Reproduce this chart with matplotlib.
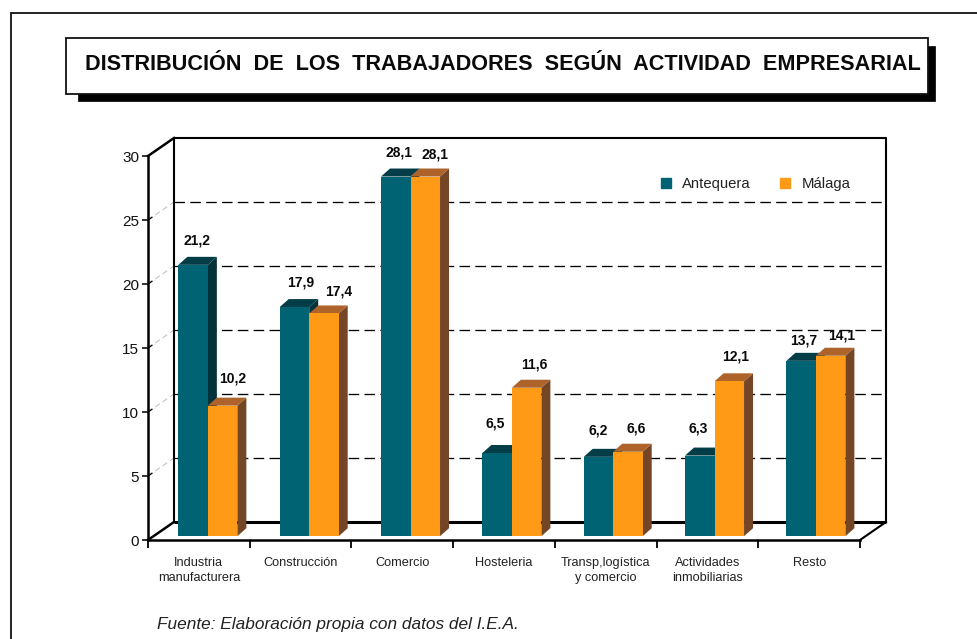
import matplotlib
matplotlib.use("Agg")
import matplotlib.pyplot as plt
from matplotlib.patches import Polygon, Rectangle
from matplotlib.lines import Line2D

plt.rcParams['font.family'] = ['Liberation Sans', 'DejaVu Sans']

title = "DISTRIBUCIÓN  DE  LOS  TRABAJADORES  SEGÚN  ACTIVIDAD  EMPRESARIAL"
source = "Fuente: Elaboración propia con datos del I.E.A."
categories = ["Industria\nmanufacturera", "Construcción", "Comercio", "Hosteleria",
              "Transp,logística\ny comercio", "Actividades\ninmobiliarias", "Resto"]
series_names = ["Antequera", "Málaga"]
antequera = [21.2, 17.9, 28.1, 6.5, 6.2, 6.3, 13.7]
malaga = [10.2, 17.4, 28.1, 11.6, 6.6, 12.1, 14.1]
y_ticks = [0, 5, 10, 15, 20, 25, 30]

W, H = 978, 639
TEAL = ('#006373', '#04323A', '#033D48')
ORANGE = ('#FF9A17', '#754626', '#AD6329')

# label nudges from each bar's top, in pixels (right, up)
off_a = [(4, 24), (6, 25), (3, 24), (-2, 30), (0, 26), (-2, 27), (3, 20)]
off_m = [(10, 27), (15, 22), (10, 22), (8, 23), (8, 23), (6, 25), (11, 20)]

fig = plt.figure(figsize=(W / 100, H / 100), dpi=100, facecolor='white')

# page furniture in pixel coordinates
bg = fig.add_axes([0, 0, 1, 1])
bg.set_xlim(0, W); bg.set_ylim(H, 0); bg.axis('off')
bg.plot([10.5, 10.5, W], [H, 12.5, 12.5], color='#111111', lw=1.3, solid_joinstyle='miter')
bg.add_patch(Rectangle((78, 46), 857, 54.5, fc='black', ec='black', lw=0.5))
bg.add_patch(Rectangle((66, 38), 862, 56, fc='white', ec='#111111', lw=1.3))
bg.text(502.5, 64, title, ha='center', va='center', fontsize=15.55, fontweight='bold', color='#0a0a0a')
bg.text(157, 624, source, ha='left', va='center', fontsize=12.4, style='italic', color='#222222')

# chart: data x = category units, data y = value units
X0, X1, Y0, Y30 = 148, 860, 540, 156
ax = fig.add_axes([X0 / W, 1 - Y0 / H, (X1 - X0) / W, (Y0 - Y30) / H])
ax.set_xlim(0, len(categories)); ax.set_ylim(0, 30)
ax.patch.set_alpha(0)
px = len(categories) / (X1 - X0)   # category units per pixel
py = 30 / (Y0 - Y30)               # value units per pixel
DX, DY = 26 * px, 18 * py          # wall depth
BW = 29.5 * px                     # bar width
BDX, BDY = 9 * px, 8 * py          # bar depth
BASE = 3.8 * py                    # bars stand slightly behind the floor edge
SHIFT = 9 * px
STEP = 0.9963                      # bar groups are spaced a touch tighter than the ticks

n = len(categories)
# walls
ax.plot([DX, DX, n + DX, n + DX], [DY, 30 + DY, 30 + DY, DY], color='black', lw=1.5, clip_on=False, zorder=2)
ax.plot([DX, n + DX], [DY, DY], color='black', lw=2.2, clip_on=False, zorder=2, solid_capstyle='butt')
ax.plot([0, DX], [30, 30 + DY], color='black', lw=1.8, clip_on=False, zorder=2)
ax.plot([0, DX], [0, DY], color='black', lw=1.8, clip_on=False, zorder=2)
ax.plot([n, n + DX], [0, DY], color='black', lw=1.5, clip_on=False, zorder=2)
for t in y_ticks[1:-1]:
    ax.plot([DX, n + DX], [t + DY, t + DY], color='black', lw=0.95, dashes=(8, 4), clip_on=False, zorder=1)
    ax.plot([0, DX], [t, t + DY], color='#c4c4c4', lw=0.8, dashes=(5, 3), clip_on=False, zorder=1)
    ax.plot([0, DX * 0.15], [t, t + DY * 0.15], color='black', lw=0.9, clip_on=False, zorder=1)


def bars(values, offset, colours, offsets):
    xs = [STEP * i + 0.5 + SHIFT + offset for i in range(n)]
    front, side, top = colours
    for x, v, (ox, oy) in zip(xs, values, offsets):
        l, r, t = x - BW / 2, x + BW / 2, v + BASE
        ax.add_patch(Polygon([(r, BASE), (r + BDX, BASE + BDY), (r + BDX, t + BDY), (r, t)],
                             fc=side, ec='none', clip_on=False, zorder=3))
        ax.add_patch(Polygon([(l, t), (r, t), (r + BDX, t + BDY), (l + BDX, t + BDY)],
                             fc=top, ec='none', clip_on=False, zorder=3))
        ax.bar(x, v, BW, bottom=BASE, color=front, zorder=3, clip_on=False)
        ax.annotate(f"{v:.1f}".replace('.', ','), (x, t), xytext=(ox, oy),
                    textcoords='offset pixels', ha='center', va='center',
                    fontsize=10, fontweight='bold', color='#0a0a0a', zorder=6, annotation_clip=False)


bars(antequera, -BW / 2, TEAL, off_a)
bars(malaga, BW / 2, ORANGE, off_m)

# axes
for s in ('top', 'right'):
    ax.spines[s].set_visible(False)
for s in ('left', 'bottom'):
    ax.spines[s].set_linewidth(1.8)
    ax.spines[s].set_zorder(5)
ax.set_yticks(y_ticks)
ax.tick_params(axis='y', labelsize=11, length=4.5, width=1.2, pad=2, colors='#111111')
ax.set_xticks(range(n + 1))
ax.set_xticklabels([])
ax.tick_params(axis='x', which='major', length=5.5, width=1.3)
ax.set_xticks([i + 0.5 for i in range(n)], categories, minor=True)
ax.tick_params(axis='x', which='minor', length=0, pad=12, labelsize=9.2, colors='#222222')
for lab in ax.get_xticklabels(minor=True):
    lab.set_linespacing(1.35)

# legend
handles = [Line2D([], [], ls='', marker='s', ms=7.6, mfc=c[0], mec=c[0]) for c in (TEAL, ORANGE)]
fig.legend(handles, series_names, loc='center left', bbox_to_anchor=(656 / W, 1 - 184 / H), ncol=2,
           frameon=False, fontsize=10.7, handletextpad=0.47, columnspacing=1.62, handlelength=1.3,
           borderpad=0, borderaxespad=0, labelcolor='#222222')

fig.savefig('out.png', dpi=100, facecolor='white')
